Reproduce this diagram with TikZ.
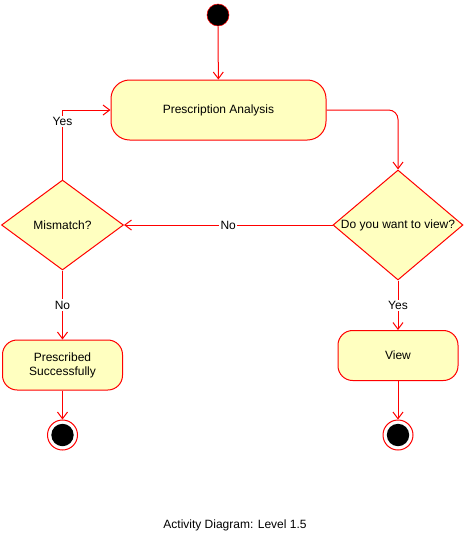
\documentclass[tikz,border=0pt]{standalone}
\usepackage{fontspec}
\setmainfont{Liberation Sans}
\usetikzlibrary{shapes.geometric,arrows.meta}
\definecolor{fillY}{HTML}{FFFFC0}
\definecolor{lineR}{HTML}{FF0000}
\begin{document}
\begin{tikzpicture}[x=0.75pt,y=-0.75pt,
 font=\fontsize{9}{10.5}\selectfont,
 act/.style={draw=lineR,fill=fillY,rounded corners=11pt,line width=0.75pt,inner sep=0pt,align=center},
 dec/.style={draw=lineR,fill=fillY,diamond,line width=0.75pt,inner sep=0pt},
 flow/.style={draw=lineR,line width=0.75pt,-{Straight Barb[length=5pt,width=7.5pt]}},
 lbl/.style={fill=white,inner sep=1pt,text=black},
 startnode/.style={circle,draw=lineR,fill=black,minimum size=16.5pt,inner sep=0pt},
 endnode/.style={circle,draw=lineR,fill=white,minimum size=22.5pt,inner sep=0pt,line width=0.75pt}]
\useasboundingbox (0,0) rectangle (464,536);
\node[startnode] (start) at (218,15) {};
\node[act,minimum width=161.25pt,minimum height=45pt,rounded corners=14pt] (pa) at (218.5,110) {Prescription Analysis};
\node[dec,minimum width=97.5pt,minimum height=82.5pt,shape aspect=1.18] (view) at (398,225) {Do you want to view?};
\node[dec,minimum width=91.5pt,minimum height=67.5pt,shape aspect=1.36] (mis) at (62.5,225) {Mismatch?};
\node[act,minimum width=90pt,minimum height=37.5pt] (ps) at (62.5,365) {Prescribed\\Successfully};
\node[act,minimum width=90pt,minimum height=37.5pt] (vb) at (398,355.5) {View};
\node[endnode] (e1) at (62.5,435) {};
\node[endnode] (e2) at (398,435) {};
\fill[black] (e1.center) circle (8.4pt);
\fill[black] (e2.center) circle (8.4pt);
\draw[flow] (start) -- (pa);
\draw[flow,rounded corners=7pt] (pa.east) -| (view.north);
\draw[flow] (view.west) -- node[lbl]{No} (mis.east);
\draw[flow] (mis.north) |- node[lbl,pos=0.42]{Yes} (pa.west);
\draw[flow] (mis.south) -- node[lbl]{No} (ps.north);
\draw[flow] (view.south) -- node[lbl]{Yes} (vb.north);
\draw[flow] (ps) -- (e1);
\draw[flow] (vb) -- (e2);
\node (cap) at (235,525) {Activity Diagram: Level 1.5};
\end{tikzpicture}
\end{document}
